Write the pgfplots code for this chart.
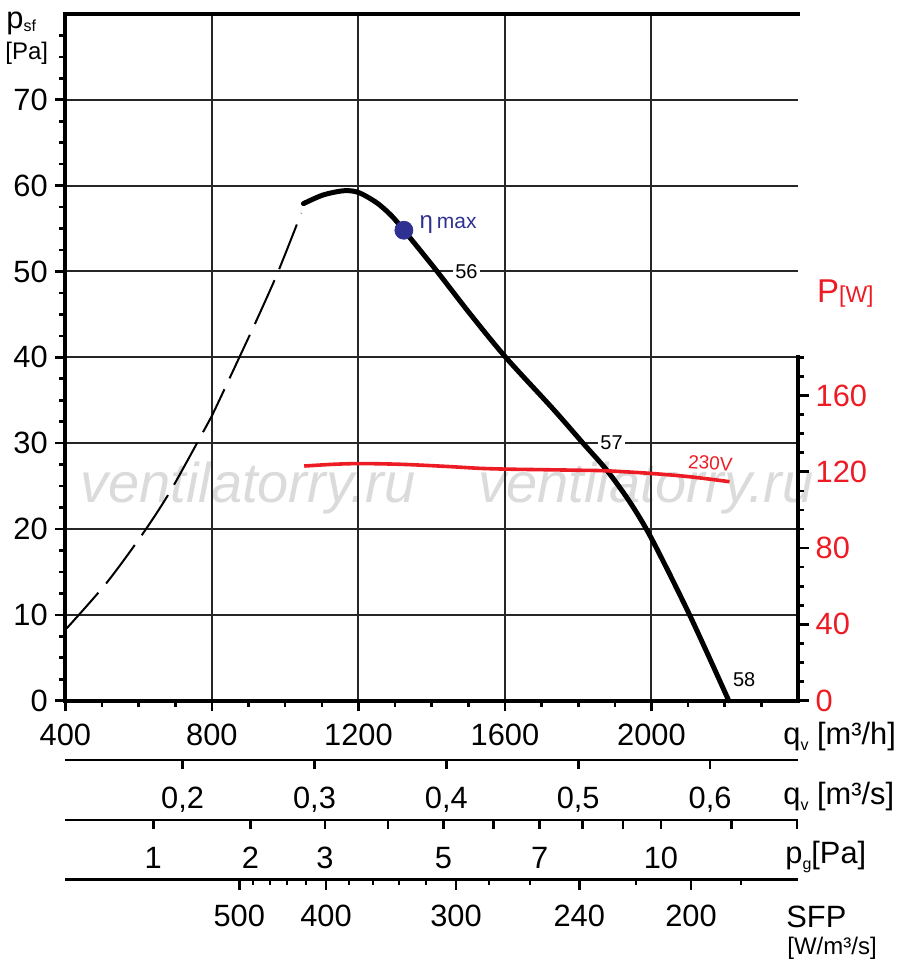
\documentclass[border=0pt]{standalone}
\usepackage{pgfplots}
\pgfplotsset{compat=1.18}
\usepackage{fontspec}
\setmainfont{Liberation Sans}
\definecolor{pred}{RGB}{237,28,36}
\definecolor{pblue}{RGB}{46,49,146}
\newcommand{\tk}{\fontsize{15.4}{18}\selectfont}
\newcommand{\sub}[1]{\raisebox{-0.22em}{\fontsize{8}{8}\selectfont #1}}
\begin{document}
\begin{tikzpicture}
% watermark (behind everything)
\begin{scope}[shift={(-32.7pt,350.35pt)}, x=0.5pt, y=-0.5pt]
\node[anchor=base west, inner sep=0, text=black!14, font=\fontsize{28}{30}\selectfont\itshape] at (80,503) {ventilatorry.ru};
\node[anchor=base west, inner sep=0, text=black!14, font=\fontsize{28}{30}\selectfont\itshape] at (478,503) {ventilatorry.ru};
\end{scope}

\begin{axis}[
  name=main, at={(0,0)}, anchor=south west,
  width=366.3pt, height=343.4pt, scale only axis,
  xmin=400, xmax=2400, ymin=0, ymax=80,
  clip=false,
  axis line style={draw=none},
  xtick={400,800,1200,1600,2000},
  minor xtick={500,600,700,900,1000,1100,1300,1400,1500,1700,1800,1900,2100,2200,2300},
  ytick={0,10,...,70},
  minor ytick={2.5,5,7.5,12.5,15,17.5,22.5,25,27.5,32.5,35,37.5,42.5,45,47.5,52.5,55,57.5,62.5,65,67.5,72.5,75,77.5},
  xtick pos=left, ytick pos=left,
  tick align=outside,
  major tick length=5.3pt, minor tick length=3pt,
  tick style={black, line width=1.3pt},
  grid=major,
  major grid style={black!85, line width=1pt},
  ticklabel style={font=\tk},
  /pgf/number format/assume math mode=true,
  /pgf/number format/1000 sep={},
  xticklabel style={yshift=-3pt},
]
% fan curve, unstable part (dashed)
\addplot[black, line width=1pt, dash pattern=on 24pt off 6pt, smooth] coordinates {
 (403,8.4) (512,13.7) (612,19.5) (685,24.3) (767,30.6) (799,33.1) (876,40.1) (926,44.7) (981,50.0) (1044,56.8)};
% fan curve, working part
\addplot[black, line width=2.5pt, smooth, line cap=round] coordinates {
 (1050,57.9) (1103,58.9) (1160,59.4) (1200,59.2) (1250,58.0) (1290,56.5) (1324,54.8) (1413,50.1) (1504,45.1)
 (1602,40.0) (1731,34.0) (1813,30.0) (1877,26.9) (1940,23.2) (2000,18.9) (2104,10.0) (2211,0)};
% eta max point
\addplot[only marks, mark=*, mark size=4.5pt, color=pblue] coordinates {(1324,54.8)};
% frame lines
\draw[line width=2pt, line cap=rect] (rel axis cs:0,0) -- (rel axis cs:0,1) -- (rel axis cs:1,1);
\draw[line width=2pt, line cap=rect] (rel axis cs:0,0) -- (rel axis cs:1,0);
% curve labels
\node[fill=white, inner sep=1.2pt, font=\fontsize{10}{12}\selectfont] at (axis cs:1495,50) {56};
\node[fill=white, inner sep=1.2pt, font=\fontsize{10}{12}\selectfont] at (axis cs:1891,30) {57};
\node[inner sep=0pt, font=\fontsize{10}{12}\selectfont] at (axis cs:2253,2.4) {58};
\node[anchor=west, inner sep=0pt, text=pblue] at (axis cs:1366,55.5) {\fontsize{12}{12}\selectfont η\hspace{2pt}\fontsize{10.5}{12}\selectfont max};
\end{axis}

\begin{axis}[
  at={(0,0)}, anchor=south west,
  width=366.3pt, height=343.4pt, scale only axis,
  xmin=400, xmax=2400, ymin=0, ymax=360,
  clip=false,
  axis line style={draw=none},
  xtick=\empty,
  ytick={0,40,80,120,160},
  minor ytick={10,20,30,50,60,70,90,100,110,130,140,150,170,180},
  ytick pos=right, yticklabel pos=right,
  tick align=outside,
  major tick length=5.3pt, minor tick length=3pt,
  tick style={black, line width=1.3pt},
  yticklabel style={font=\tk, text=pred},
  /pgf/number format/assume math mode=true,
]
\draw[line width=2pt, line cap=rect] (axis cs:2400,0) -- (axis cs:2400,180);
\addplot[pred, line width=1.8pt, smooth] coordinates {
 (1052,123.0) (1130,123.9) (1204,124.3) (1300,124.0) (1367,123.5) (1450,122.7) (1531,121.8) (1600,121.4)
 (1700,121.1) (1800,120.8) (1877,120.5) (1994,119.2) (2104,117.4) (2213,114.8)};
\node[text=pred, inner sep=0pt, rotate=-4, font=\fontsize{9.5}{11}\selectfont] at (axis cs:2161,124.5) {230V};
\end{axis}

% secondary scales and labels, in pixel coordinates of the reference
\begin{scope}[shift={(-32.7pt,350.35pt)}, x=0.5pt, y=-0.5pt]
% q_v m3/s scale
\draw[line width=1.3pt] (65.4,760) -- (798,760);
\foreach \x in {182.6,314.5,446.4,578.2,710.1} \draw[line width=1.3pt] (\x,760) -- ++(0,9);
\foreach \x/\l in {182.6/{0,2},314.5/{0,3},446.4/{0,4},578.2/{0,5},710.1/{0,6}}
  \node[anchor=base, inner sep=0, font=\tk] at (\x,808.3) {\l};
% p_g scale
\draw[line width=1.3pt] (65.4,820) -- (798,820);
\foreach \x in {153.3,250.4,325,388,443.4,493.5,539.6,582.5,622.8,660.9,731.7,797}
  \draw[line width=1.3pt] (\x,820) -- ++(0,9);
\foreach \x/\l in {153.3/1,250.4/2,325/3,443.4/5,539.6/7,660.9/10}
  \node[anchor=base, inner sep=0, font=\tk] at (\x,868.3) {\l};
% SFP scale
\draw[line width=1.3pt] (65.4,879.5) -- (798,879.5);
\foreach \x in {239.3,326,456,579.3,691} \draw[line width=1.3pt] (\x,879.5) -- ++(0,10);
\foreach \x in {253,270,286.7,306,349,372.7,399,426,489,530,636,741} \draw[line width=1.2pt] (\x,879.5) -- ++(0,5);
\foreach \x/\l in {239.3/500,326/400,456/300,579.3/240,691/200}
  \node[anchor=base, inner sep=0, font=\tk] at (\x,926.7) {\l};
% axis titles
\node[anchor=base west, inner sep=0, font=\tk] at (783,744) {q\sub{v} [m³/h]};
\node[anchor=base west, inner sep=0, font=\tk] at (783,804) {q\sub{v} [m³/s]};
\node[anchor=base west, inner sep=0, font=\tk] at (785,863) {p\sub{g}[Pa]};
\node[anchor=base west, inner sep=0, font=\tk] at (786,927) {SFP};
\node[anchor=base west, inner sep=0, font=\fontsize{12}{14}\selectfont] at (787,954) {[W/m³/s]};
\node[anchor=base west, inner sep=0, text=pred] at (816.7,302.7) {\fontsize{16.5}{18}\selectfont P\fontsize{11.5}{13}\selectfont[W]};
\node[anchor=base west, inner sep=0] at (6,29) {\tk p\raisebox{-1.5pt}{\fontsize{8}{8}\selectfont sf}};
\node[anchor=base west, inner sep=0, font=\fontsize{12}{14}\selectfont] at (5,60) {[Pa]};
\end{scope}

\pgfresetboundingbox
\path (-32.7pt,-134.65pt) rectangle (417.3pt,350.35pt);
\end{tikzpicture}
\end{document}
